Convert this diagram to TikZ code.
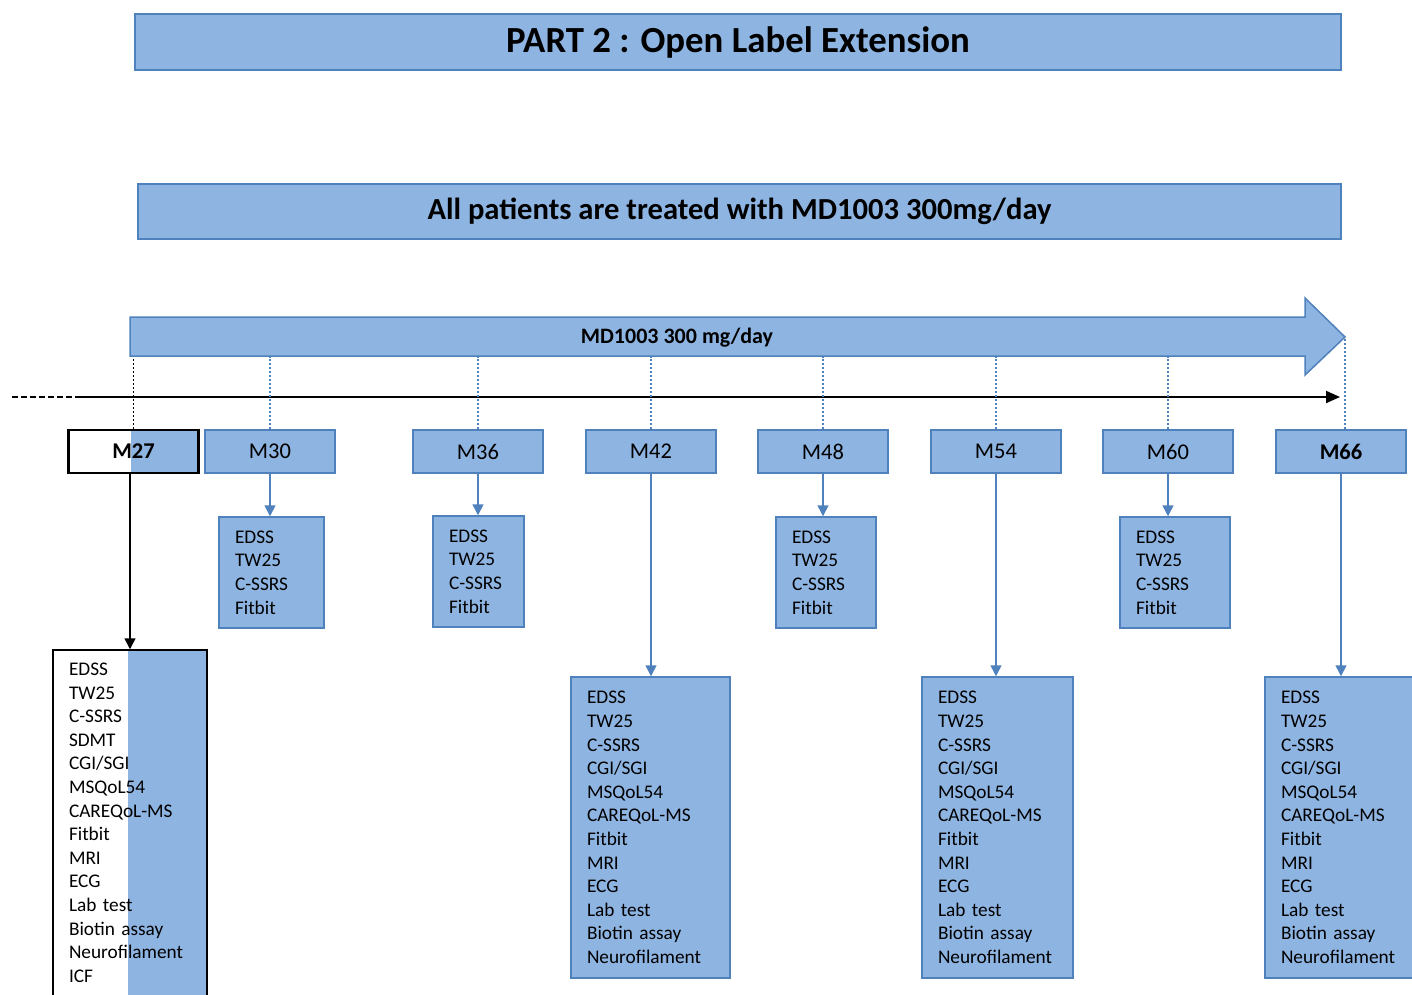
\documentclass[tikz,border=0pt]{standalone}
\usepackage{fontspec}
\setmainfont{Carlito}
\usepackage{xcolor}
\usetikzlibrary{arrows.meta}

\definecolor{boxfill}{RGB}{142,180,226}
\definecolor{boxline}{RGB}{79,129,189}

\newcommand{\shortlist}{EDSS\\TW25\\C-SSRS\\Fitbit}
\newcommand{\longlist}{EDSS\\TW25\\C-SSRS\\CGI/SGI\\MSQoL54\\CAREQoL-MS\\Fitbit\\MRI\\ECG\\Lab test\\Biotin assay\\Neurofilament}

\begin{document}
\begin{tikzpicture}[x=1pt,y=-1pt,
  every node/.style={font=\fontsize{19.3}{23.6}\selectfont},
  bluebox/.style={rectangle,draw=boxline,fill=boxfill,line width=1.5pt},
  month/.style={bluebox,minimum width=130pt,minimum height=43pt,
    font=\fontsize{22.5}{27}\selectfont},
  listbox/.style={bluebox,align=left,inner xsep=16pt,inner ysep=0pt,text width=#1},
  tick/.style={boxline,line width=1.8pt,dash pattern=on 2pt off 2pt},
  down/.style={boxline,line width=1.5pt,-{Triangle[length=11pt,width=11pt]}}]
  \useasboundingbox (0,0) rectangle (1412,994);

  % headers
  \node[bluebox,minimum width=1206pt,minimum height=56pt,
    font=\fontsize{36.8}{44}\selectfont\bfseries] (part) at (738,42) {PART 2 : Open Label Extension};
  \node[bluebox,minimum width=1203pt,minimum height=55pt,
    font=\fontsize{30.6}{36}\selectfont\bfseries] (treat) at (739.5,211.5) {All patients are treated with MD1003 300mg/day};

  % treatment arrow
  \fill[boxfill,draw=boxline,line width=1.5pt] (130,317) -- (1305,317) -- (1305,298) -- (1345,337)
    -- (1305,375) -- (1305,356) -- (130,356) -- cycle;
  \coordinate (tip) at (1345,337);
  \coordinate (barbot) at (0,357);
  \node[font=\fontsize{22}{26}\selectfont\bfseries] (dose) at (677,338) {MD1003 300 mg/day};

  % time line
  \coordinate (tstart) at (12,397);
  \coordinate (tdash) at (78,397);
  \coordinate (tend) at (1340,397);
  \draw[line width=2pt,dash pattern=on 6pt off 3pt] (tstart) -- (tdash);
  \draw[line width=2pt,-{Triangle[length=14pt,width=12pt]}] (tdash) -- (tend);

  % visits
  \node[month,draw=black,line width=2.5pt,fill=white,font=\fontsize{22.5}{27}\selectfont\bfseries,
    path picture={\fill[boxfill] ([xshift=62pt]path picture bounding box.north west)
      rectangle (path picture bounding box.south east);}] (m27) at (133.5,451.5) {M27};
  \node[month] (m30) at (270,451.5) {M30};
  \node[month] (m36) at (478,451.5) {M36};
  \node[month] (m42) at (651,451.5) {M42};
  \node[month] (m48) at (823,451.5) {M48};
  \node[month] (m54) at (996,451.5) {M54};
  \node[month] (m60) at (1168,451.5) {M60};
  \node[month,line width=2.5pt,font=\fontsize{22.5}{27}\selectfont\bfseries] (m66) at (1341,451.5) {M66};

  % assessments
  \node[listbox=73pt,minimum height=111pt] (l30) at (271.5,572.5) {\shortlist};
  \node[listbox=59pt,minimum height=111pt] (l36) at (478.5,571.5) {\shortlist};
  \node[listbox=68pt,minimum height=111pt] (l48) at (826,572.5) {\shortlist};
  \node[listbox=78pt,minimum height=111pt] (l60) at (1175,572.5) {\shortlist};
  \node[listbox=127pt,minimum height=301pt] (l42) at (650.5,827.5) {\longlist};
  \node[listbox=119pt,minimum height=301pt] (l54) at (997.5,827.5) {\longlist};
  \node[listbox=125pt,minimum height=301pt] (l66) at (1343.5,827.5) {\longlist};
  \node[listbox=122pt,minimum height=369pt,draw=black,fill=white,
    path picture={\fill[boxfill] ([xshift=75pt]path picture bounding box.north west)
      rectangle (path picture bounding box.south east);}] (l27) at (130,834.5)
    {EDSS\\TW25\\C-SSRS\\SDMT\\CGI/SGI\\MSQoL54\\CAREQoL-MS\\Fitbit\\MRI\\ECG\\Lab test\\Biotin assay\\Neurofilament\\ICF\\\mbox{}};

  % dotted ticks
  \draw[tick,black] (m27.north) -- (m27.north |- barbot);
  \foreach \m in {m30,m36,m42,m48,m54,m60}
    \draw[tick] (\m.north) -- (\m.north |- barbot);
  \draw[tick] (m66.north -| tip) -- (tip);

  % connectors
  \draw[down,black] (l27.north |- m27.south) -- (l27.north);
  \foreach \m/\l in {m30/l30,m36/l36,m42/l42,m48/l48,m54/l54,m60/l60,m66/l66}
    \draw[down] (\m.south) -- (\l.north -| \m.south);
\end{tikzpicture}
\end{document}
